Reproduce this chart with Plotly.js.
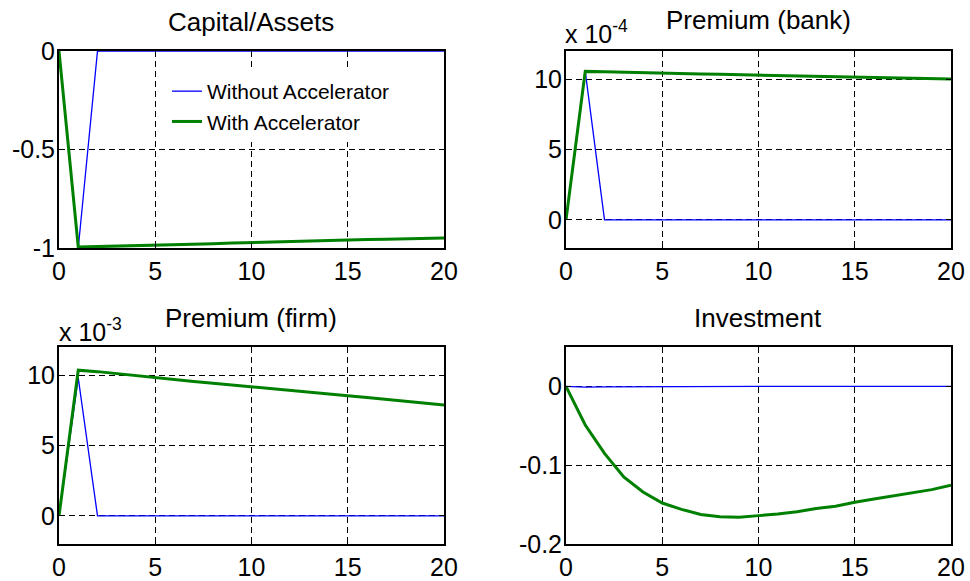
<!DOCTYPE html>
<html>
<head>
<meta charset="utf-8">
<script src="https://cdn.plot.ly/plotly-3.0.1.min.js"></script>
<style>html,body{margin:0;padding:0;background:#fff;}#chart{width:970px;height:581px;}</style>
</head>
<body>
<div id="chart"></div>
<script>
// ---- data ----
const periods = [0,1,2,3,4,5,6,7,8,9,10,11,12,13,14,15,16,17,18,19,20];

const capitalWithout = [0,-1,0,0,0,0,0,0,0,0,0,0,0,0,0,0,0,0,0,0,0];
const capitalWith    = [0,-0.995,-0.993,-0.991,-0.989,-0.986,-0.983,-0.981,-0.978,-0.975,-0.972,-0.970,-0.967,-0.965,-0.962,-0.960,-0.957,-0.955,-0.953,-0.951,-0.949];

// Premium (bank), in units of 1e-4
const bankWithout = [0,10.55,0,0,0,0,0,0,0,0,0,0,0,0,0,0,0,0,0,0,0];
const bankWith    = [0,10.55,10.52,10.50,10.47,10.43,10.40,10.37,10.34,10.31,10.28,10.25,10.22,10.19,10.16,10.14,10.11,10.08,10.06,10.04,10.01];

// Premium (firm), in units of 1e-3
const firmWithout = [0,9.8,0,0,0,0,0,0,0,0,0,0,0,0,0,0,0,0,0,0,0];
const firmWith    = [0,10.35,10.25,10.10,9.95,9.82,9.68,9.55,9.43,9.31,9.19,9.05,8.93,8.80,8.67,8.54,8.41,8.27,8.13,8.00,7.87];

const investWithout = [0,-0.001,-0.0006,-0.0004,-0.0003,-0.0002,-0.0001,0,0,0,0,0,0,0,0,0,0,0,0,0,0];
const investWith    = [0,-0.049,-0.085,-0.115,-0.134,-0.148,-0.156,-0.1625,-0.1655,-0.166,-0.164,-0.162,-0.159,-0.155,-0.152,-0.147,-0.143,-0.139,-0.135,-0.131,-0.1255];

const titles = ["Capital/Assets","Premium (bank)","Premium (firm)","Investment"];
const seriesNames = ["Without Accelerator","With Accelerator"];
const xTicks = [0,5,10,15,20];
const xTickText = ["0","5","10","15","20"];
const capTicks = [-1,-0.5,0];
const capTickText = ["-1","-0.5","0"];
const premTicks = [0,5,10];
const premTickText = ["0","5","10"];
const invTicks = [-0.2,-0.1,0];
const invTickText = ["-0.2","-0.1","0"];
const bankExp = "-4";
const firmExp = "-3";

// ---- styling ----
const W = 970, H = 581;
const FONT = "Arial, 'Liberation Sans', sans-serif";
const blue = "#0000ff", green = "#008000";
const px = v => v / W;
const py = v => 1 - v / H;

const colL = [px(59), px(444)];
const colR = [px(566), px(951)];
const rowT = [py(248), py(51)];
const rowB = [py(544), py(347)];

function common() {
  return {
    showgrid: true, gridcolor: "#000", griddash: "6px,4px", gridwidth: 1,
    showline: true, linecolor: "#000", linewidth: 2, mirror: "ticks",
    ticks: "inside", ticklen: 5, tickcolor: "#000", tickwidth: 1,
    zeroline: false, automargin: false, fixedrange: true,
    tickfont: {family: FONT, size: 25, color: "#000"}
  };
}
function xa(domain, anchor) {
  return Object.assign(common(), {
    domain: domain, anchor: anchor, range: [0,20],
    tickvals: xTicks, ticktext: xTickText
  });
}
function ya(domain, anchor, range, tv, tt) {
  return Object.assign(common(), {
    domain: domain, anchor: anchor, range: range,
    tickvals: tv, ticktext: tt, ticklabelstandoff: -3
  });
}

function pair(xref, yref, yWithout, yWith, showLegend) {
  return [
    {x: periods, y: yWithout, xaxis: xref, yaxis: yref, type: "scatter", mode: "lines",
     name: seriesNames[0], line: {color: blue, width: 1.3}, showlegend: showLegend},
    {x: periods, y: yWith, xaxis: xref, yaxis: yref, type: "scatter", mode: "lines",
     name: seriesNames[1], line: {color: green, width: 3}, showlegend: showLegend}
  ];
}

const data = [].concat(
  pair("x", "y", capitalWithout, capitalWith, true),
  pair("x2", "y2", bankWithout, bankWith, false),
  pair("x3", "y3", firmWithout, firmWith, false),
  pair("x4", "y4", investWithout, investWith, false)
);

function titleAnn(text, xc, yc) {
  return {text: text, x: px(xc), y: py(yc), xref: "paper", yref: "paper",
          xanchor: "center", yanchor: "middle", showarrow: false,
          font: {family: FONT, size: 26, color: "#000"}};
}
function expAnn(exp, xl, yb) {
  return {text: "x 10<sup>" + exp + "</sup>", x: px(xl), y: py(yb), xref: "paper", yref: "paper",
          xanchor: "left", yanchor: "bottom", showarrow: false,
          font: {family: FONT, size: 25, color: "#000"}};
}

const layout = {
  width: W, height: H,
  margin: {l: 0, r: 0, t: 0, b: 0},
  paper_bgcolor: "#fff", plot_bgcolor: "#fff",
  font: {family: FONT, size: 25, color: "#000"},
  xaxis: xa(colL, "y"),  yaxis: ya(rowT, "x", [-1, 0], capTicks, capTickText),
  xaxis2: xa(colR, "y2"), yaxis2: ya(rowT, "x2", [-2, 12], premTicks, premTickText),
  xaxis3: xa(colL, "y3"), yaxis3: ya(rowB, "x3", [-2, 12], premTicks, premTickText),
  xaxis4: xa(colR, "y4"), yaxis4: ya(rowB, "x4", [-0.2, 0.05], invTicks, invTickText),
  showlegend: true,
  legend: {x: px(167), y: py(71), xanchor: "left", yanchor: "top",
           bgcolor: "#fff", borderwidth: 0,
           font: {family: FONT, size: 21, color: "#000"}, tracegroupgap: 0},
  annotations: [
    titleAnn(titles[0], 251, 22),
    titleAnn(titles[1], 758, 20),
    titleAnn(titles[2], 251, 318),
    titleAnn(titles[3], 758, 318),
    expAnn(bankExp, 563, 50),
    expAnn(firmExp, 57, 348)
  ]
};

Plotly.newPlot("chart", data, layout, {staticPlot: true, displayModeBar: false});
</script>
</body>
</html>
